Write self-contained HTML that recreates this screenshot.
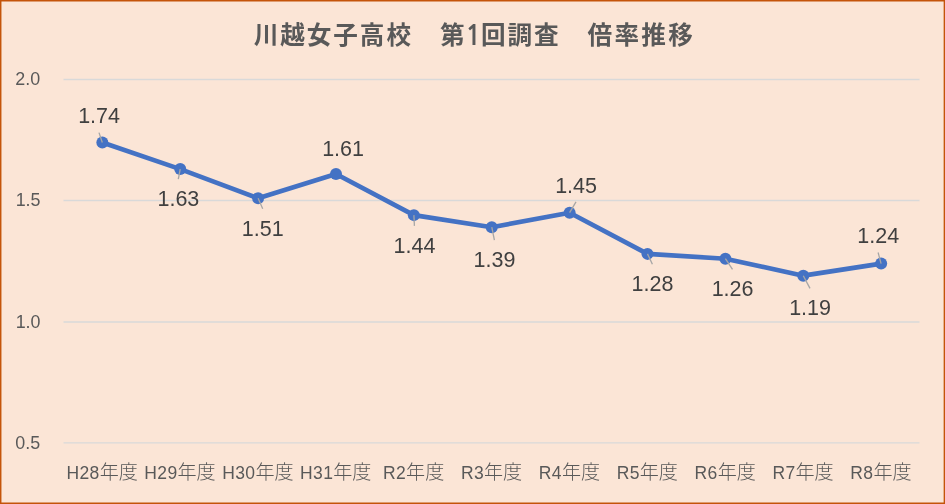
<!DOCTYPE html>
<html lang="ja"><head><meta charset="utf-8"><title>川越女子高校 第1回調査 倍率推移</title>
<style>
html,body{margin:0;padding:0;background:#FBE5D6;}
body{width:945px;height:504px;overflow:hidden;position:relative;}
svg{display:block;position:absolute;left:0;top:0;}
text{font-family:"Liberation Sans","Noto Sans CJK JP",sans-serif;}
.t{font-weight:700;font-size:24.6px;fill:#595959;letter-spacing:1.95px;}
.t .n{font-family:"NanumGothic","Liberation Sans",sans-serif;font-size:27.5px;letter-spacing:-1.5px;}
.ax{font-size:17.9px;fill:#595959;}
.cx{font-size:17.5px;fill:#595959;letter-spacing:0.35px;}
.cx .j{font-size:19.1px;font-weight:300;letter-spacing:0;}
.dl{font-size:21.5px;fill:#404040;}
</style></head><body>
<svg width="945" height="504" viewBox="0 0 945 504">
<rect x="0" y="0" width="945" height="504" fill="#FBE5D6"/>
<path fill="#C4540A" d="M0 0H945V504H0Z M1.45 1.5V502.4H943.65V1.5Z"/>

<g stroke="#D9D9D9" stroke-width="1.3">
<line x1="63.5" x2="919.5" y1="79.50" y2="79.50"/>
<line x1="63.5" x2="919.5" y1="200.50" y2="200.50"/>
<line x1="63.5" x2="919.5" y1="322.00" y2="322.00"/>
<line x1="63.5" x2="919.5" y1="442.80" y2="442.80"/>
</g>
<text class="t" y="43.6" xml:space="preserve"><tspan x="253.7">川越女子高校</tspan>　<tspan x="440.1">第</tspan><tspan class="n" dx="-1.7" dy="1.5">1</tspan><tspan dx="0.8" dy="-1.5">回調査</tspan>　<tspan x="587.6" style="letter-spacing:2.25px">倍率推移</tspan></text>
<text class="ax" x="27.8" y="85.35" text-anchor="middle">2.0</text>
<text class="ax" x="28.1" y="206.45" text-anchor="middle">1.5</text>
<text class="ax" x="28.1" y="327.55" text-anchor="middle">1.0</text>
<text class="ax" x="27.8" y="448.65" text-anchor="middle">0.5</text>
<text class="cx" x="102.15" y="478.9" text-anchor="middle">H28<tspan class="j">年度</tspan></text>
<text class="cx" x="180.03" y="478.9" text-anchor="middle">H29<tspan class="j">年度</tspan></text>
<text class="cx" x="257.91" y="478.9" text-anchor="middle">H30<tspan class="j">年度</tspan></text>
<text class="cx" x="335.79" y="478.9" text-anchor="middle">H31<tspan class="j">年度</tspan></text>
<text class="cx" x="413.67" y="478.9" text-anchor="middle">R2<tspan class="j">年度</tspan></text>
<text class="cx" x="491.55" y="478.9" text-anchor="middle">R3<tspan class="j">年度</tspan></text>
<text class="cx" x="569.43" y="478.9" text-anchor="middle">R4<tspan class="j">年度</tspan></text>
<text class="cx" x="647.31" y="478.9" text-anchor="middle">R5<tspan class="j">年度</tspan></text>
<text class="cx" x="725.19" y="478.9" text-anchor="middle">R6<tspan class="j">年度</tspan></text>
<text class="cx" x="803.07" y="478.9" text-anchor="middle">R7<tspan class="j">年度</tspan></text>
<text class="cx" x="880.95" y="478.9" text-anchor="middle">R8<tspan class="j">年度</tspan></text>
<polyline points="102.35,142.47 180.23,169.11 258.11,198.18 335.99,173.96 413.87,215.13 491.75,227.24 569.63,212.71 647.51,253.88 725.39,258.73 803.27,275.68 881.15,263.57" fill="none" stroke="#4472C4" stroke-width="4.7" stroke-linejoin="round" stroke-linecap="round"/>
<g fill="#4472C4">
<circle cx="102.35" cy="142.47" r="6"/>
<circle cx="180.23" cy="169.11" r="6"/>
<circle cx="258.11" cy="198.18" r="6"/>
<circle cx="335.99" cy="173.96" r="6"/>
<circle cx="413.87" cy="215.13" r="6"/>
<circle cx="491.75" cy="227.24" r="6"/>
<circle cx="569.63" cy="212.71" r="6"/>
<circle cx="647.51" cy="253.88" r="6"/>
<circle cx="725.39" cy="258.73" r="6"/>
<circle cx="803.27" cy="275.68" r="6"/>
<circle cx="881.15" cy="263.57" r="6"/>
</g>
<g stroke="#A6A6A6" stroke-width="1.3">
<line x1="99.0" y1="132.6" x2="102.3" y2="142.5"/>
<line x1="178.3" y1="179.2" x2="180.2" y2="169.1"/>
<line x1="262.7" y1="208.7" x2="258.1" y2="198.2"/>
<line x1="414.4" y1="225.9" x2="413.9" y2="215.1"/>
<line x1="494.4" y1="240.1" x2="491.8" y2="227.2"/>
<line x1="576.0" y1="201.9" x2="569.6" y2="212.7"/>
<line x1="652.4" y1="264.3" x2="647.5" y2="253.9"/>
<line x1="732.5" y1="269.4" x2="725.4" y2="258.7"/>
<line x1="810.0" y1="288.4" x2="803.3" y2="275.7"/>
<line x1="878.1" y1="252.5" x2="881.1" y2="263.6"/>
</g>
<text class="dl" x="99.1" y="123.3" text-anchor="middle">1.74</text>
<text class="dl" x="178.4" y="206.1" text-anchor="middle">1.63</text>
<text class="dl" x="262.8" y="235.6" text-anchor="middle">1.51</text>
<text class="dl" x="343.1" y="155.6" text-anchor="middle">1.61</text>
<text class="dl" x="414.5" y="252.8" text-anchor="middle">1.44</text>
<text class="dl" x="494.5" y="267.0" text-anchor="middle">1.39</text>
<text class="dl" x="576.1" y="192.6" text-anchor="middle">1.45</text>
<text class="dl" x="652.5" y="291.2" text-anchor="middle">1.28</text>
<text class="dl" x="732.6" y="296.3" text-anchor="middle">1.26</text>
<text class="dl" x="810.1" y="315.3" text-anchor="middle">1.19</text>
<text class="dl" x="878.2" y="243.2" text-anchor="middle">1.24</text>
</svg></body></html>
